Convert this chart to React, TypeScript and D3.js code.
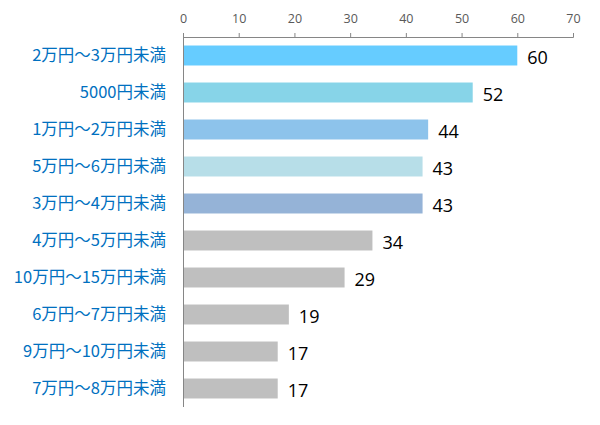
import React, { useEffect, useRef } from "react";
import * as d3 from "d3";

const categories = [
  "2万円～3万円未満",
  "5000円未満",
  "1万円～2万円未満",
  "5万円～6万円未満",
  "3万円～4万円未満",
  "4万円～5万円未満",
  "10万円～15万円未満",
  "6万円～7万円未満",
  "9万円～10万円未満",
  "7万円～8万円未満",
];
const values = [60, 52, 44, 43, 43, 34, 29, 19, 17, 17];
const barColors = [
  "#66CCFF",
  "#87D4E8",
  "#8DC3EB",
  "#B7DEE8",
  "#95B3D7",
  "#BFBFBF",
  "#BFBFBF",
  "#BFBFBF",
  "#BFBFBF",
  "#BFBFBF",
];
const ticks = [0, 10, 20, 30, 40, 50, 60, 70];

const margin = { top: 37, left: 183, width: 390, height: 370 };

const App: React.FC = () => {
  const svgRef = useRef<SVGSVGElement | null>(null);

  useEffect(() => {
    if (!svgRef.current) return;
    const svg = d3.select(svgRef.current);
    svg.selectAll("*").remove();

    const x = d3.scaleLinear().domain([0, 70]).range([0, margin.width]);
    const y = d3
      .scaleBand<string>()
      .domain(categories)
      .range([0, margin.height])
      .paddingInner(0.46)
      .paddingOuter(0.23);

    const g = svg
      .append("g")
      .attr("transform", `translate(${margin.left},${margin.top})`);

    // top axis
    const axis = g
      .append("g")
      .call(d3.axisTop(x).tickValues(ticks).tickSize(4).tickSizeOuter(4));
    axis.select(".domain").attr("stroke", "#868686");
    axis.selectAll(".tick line").attr("stroke", "#868686");
    axis
      .selectAll(".tick text")
      .attr("fill", "#595959")
      .attr("font-size", 12.5)
      .attr("y", -14)
      .attr("font-family", "'Open Sans', 'Noto Sans', sans-serif");

    // bars
    g.selectAll(".bar")
      .data(values)
      .enter()
      .append("rect")
      .attr("x", 0)
      .attr("y", (_, i) => y(categories[i]) ?? 0)
      .attr("width", (d) => x(d))
      .attr("height", y.bandwidth())
      .attr("fill", (_, i) => barColors[i]);

    // left axis line
    g.append("line")
      .attr("x1", 0.5)
      .attr("x2", 0.5)
      .attr("y1", 0)
      .attr("y2", margin.height)
      .attr("stroke", "#868686");

    // category labels
    g.selectAll(".cat")
      .data(categories)
      .enter()
      .append("text")
      .attr("x", -17)
      .attr("y", (d) => (y(d) ?? 0) + y.bandwidth() / 2)
      .attr("dy", "0.35em")
      .attr("text-anchor", "end")
      .attr("fill", "#0070C0")
      .attr("font-size", 16.5)
      .attr("font-family", "'Noto Sans CJK JP', sans-serif")
      .text((d) => d);

    // value labels
    g.selectAll(".val")
      .data(values)
      .enter()
      .append("text")
      .attr("x", (d) => x(d) + 10)
      .attr("y", (_, i) => (y(categories[i]) ?? 0) + y.bandwidth() / 2 + 2)
      .attr("dy", "0.35em")
      .attr("fill", "#000")
      .attr("font-size", 18)
      .attr("font-family", "'Open Sans', 'Noto Sans', sans-serif")
      .text((d) => d);
  }, []);

  return (
    <svg
      ref={svgRef}
      width={600}
      height={425}
      style={{ position: "absolute", left: 0, top: 0, background: "#fff" }}
    />
  );
};

export default App;
